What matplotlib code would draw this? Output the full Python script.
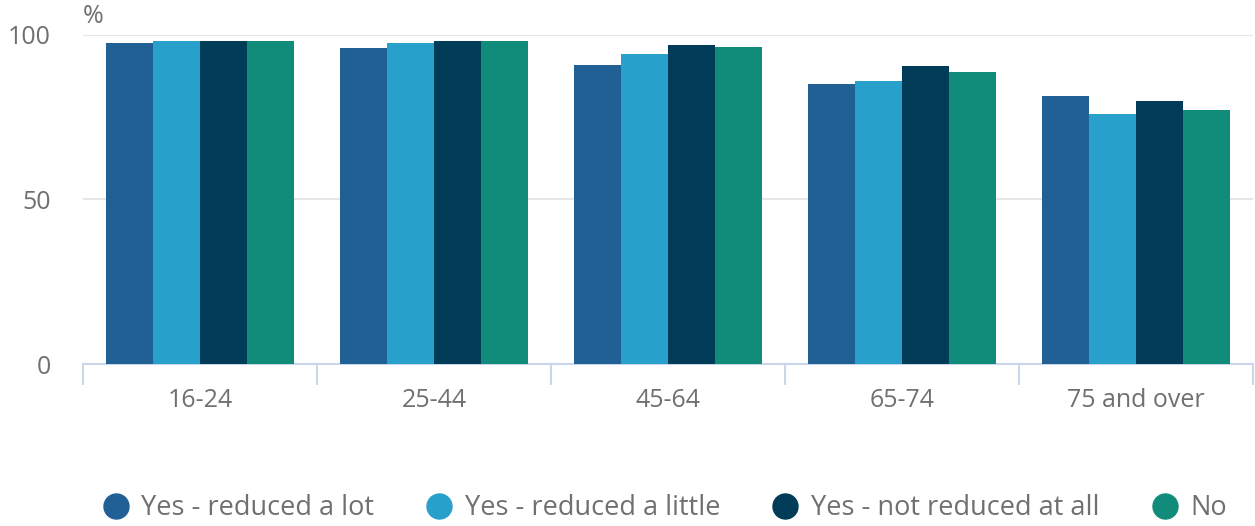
import matplotlib
matplotlib.use("Agg")
import matplotlib.pyplot as plt
from matplotlib.lines import Line2D
import numpy as np

plt.rcParams['font.family'] = ['Open Sans', 'DejaVu Sans']

age_groups = ["16-24", "25-44", "45-64", "65-74", "75 and over"]
series_names = ["Yes - reduced a lot", "Yes - reduced a little",
                "Yes - not reduced at all", "No"]
reduced_a_lot = [97.5, 95.9, 90.7, 85.0, 81.2]
reduced_a_little = [98.1, 97.4, 94.1, 85.9, 75.9]
not_reduced = [98.1, 98.0, 96.7, 90.4, 79.7]
no_condition = [98.1, 98.0, 96.1, 88.6, 77.0]
yticks = [0, 50, 100]

colors = ["#206095", "#27a0cc", "#003c57", "#118c7b"]
text_color = "#707070"

fig = plt.figure(figsize=(12.55, 5.26), dpi=100)
ax = fig.add_axes([83 / 1255, 1 - 364 / 526, 1170 / 1255, 329.5 / 526])

series = [reduced_a_lot, reduced_a_little, not_reduced, no_condition]
x = np.arange(len(age_groups))
bw = 0.2
for i, (vals, col) in enumerate(zip(series, colors)):
    ax.bar(x + (i - 1.5) * bw, vals, width=bw, color=col, edgecolor="none",
           zorder=3)

ax.set_xlim(-0.5, len(age_groups) - 0.5)
ax.set_ylim(0, 100)

for s in ["top", "right", "left"]:
    ax.spines[s].set_visible(False)
ax.spines["bottom"].set_color("#ccd6eb")
ax.spines["bottom"].set_linewidth(1.5)

ax.set_yticks(yticks)
ax.set_yticklabels([str(v) for v in yticks])
ax.tick_params(axis="y", length=0, pad=23, labelsize=18, labelcolor=text_color)
for lab in ax.get_yticklabels():
    lab.set_verticalalignment("center_baseline")
ax.yaxis.grid(True, color="#e6e6e6", linewidth=1.5, zorder=0)

# category labels at centres, boundary ticks at group edges
ax.set_xticks(x)
ax.set_xticklabels(age_groups)
ax.tick_params(axis="x", which="major", length=0, pad=17, labelsize=18,
               labelcolor=text_color)
ax.set_xticks(np.arange(len(age_groups) + 1) - 0.5, minor=True)
ax.tick_params(axis="x", which="minor", length=15, width=1.5, color="#ccd6eb")

ax.annotate("%", xy=(0.0, 1.0), xycoords="axes fraction", xytext=(0, 4),
            textcoords="offset points", fontsize=18, color=text_color,
            ha="left", va="bottom")

handles = [Line2D([0], [0], marker="o", linestyle="none", markersize=18,
                  markerfacecolor=c, markeredgecolor=c) for c in colors]
fig.legend(handles, series_names, loc="center",
           bbox_to_anchor=(0.5295, 1 - 508 / 526),
           ncol=4, frameon=False, fontsize=19.5, labelcolor=text_color,
           handletextpad=0.45, columnspacing=1.9, handlelength=1.0)

fig.savefig("out.png", dpi=100)
